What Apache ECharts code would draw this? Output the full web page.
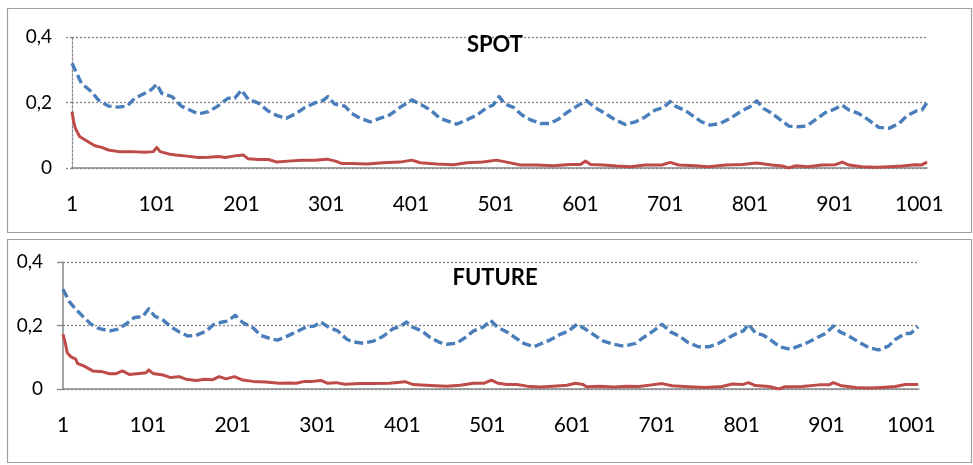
<!DOCTYPE html>
<html>
<head>
<meta charset="utf-8">
<title>SPOT / FUTURE</title>
<script src="https://cdn.jsdelivr.net/npm/echarts@6/dist/echarts.min.js"></script>
<style>
  html, body { margin: 0; padding: 0; background: #fff; }
  #chart { width: 973px; height: 465px; }
</style>
</head>
<body>
<div id="chart"></div>
<script>
// Observation offsets (0 = first observation) and values for each panel.
var spotUpperX = [0, 11, 23, 31, 43, 54, 65, 74, 86, 94, 100, 106, 118, 129, 139, 149, 161, 172, 184, 192, 200, 208, 220, 231, 243, 253, 265, 275, 287, 296, 302, 310, 322, 330, 340, 352, 364, 375, 387, 401, 413, 423, 434, 446, 454, 466, 478, 490, 497, 504, 511, 521, 531, 541, 553, 564, 574, 584, 596, 607, 617, 629, 641, 653, 665, 676, 688, 698, 706, 712, 724, 734, 743, 753, 765, 777, 789, 800, 808, 816, 826, 836, 846, 857, 867, 877, 889, 899, 909, 917, 928, 940, 952, 964, 976, 985, 997, 1003, 1009];
var spotUpperY = [0.320, 0.259, 0.233, 0.208, 0.189, 0.186, 0.189, 0.213, 0.228, 0.240, 0.256, 0.228, 0.218, 0.189, 0.177, 0.165, 0.172, 0.189, 0.213, 0.213, 0.238, 0.210, 0.198, 0.175, 0.159, 0.152, 0.167, 0.185, 0.199, 0.206, 0.218, 0.195, 0.189, 0.167, 0.152, 0.141, 0.152, 0.162, 0.185, 0.208, 0.192, 0.177, 0.152, 0.141, 0.134, 0.147, 0.162, 0.185, 0.192, 0.218, 0.195, 0.185, 0.162, 0.147, 0.136, 0.136, 0.149, 0.169, 0.189, 0.206, 0.185, 0.167, 0.147, 0.133, 0.141, 0.155, 0.177, 0.185, 0.203, 0.189, 0.175, 0.157, 0.141, 0.131, 0.136, 0.152, 0.172, 0.187, 0.205, 0.182, 0.167, 0.147, 0.128, 0.126, 0.128, 0.147, 0.169, 0.179, 0.192, 0.177, 0.167, 0.147, 0.124, 0.121, 0.136, 0.159, 0.175, 0.177, 0.199];

var spotLowerX = [0, 2, 4, 9, 19, 27, 35, 43, 55, 70, 86, 96, 100, 104, 114, 122, 133, 149, 161, 173, 181, 192, 202, 208, 220, 232, 242, 255, 271, 287, 301, 311, 318, 330, 348, 367, 387, 401, 411, 430, 450, 466, 485, 501, 513, 529, 548, 568, 588, 600, 606, 612, 627, 643, 659, 676, 696, 706, 716, 736, 751, 771, 791, 808, 826, 838, 846, 854, 869, 885, 901, 909, 917, 932, 948, 964, 980, 995, 1002, 1009];
var spotLowerY = [0.172, 0.141, 0.121, 0.096, 0.080, 0.068, 0.063, 0.055, 0.050, 0.050, 0.048, 0.050, 0.063, 0.050, 0.043, 0.040, 0.037, 0.032, 0.033, 0.035, 0.032, 0.037, 0.040, 0.028, 0.026, 0.026, 0.018, 0.021, 0.024, 0.024, 0.027, 0.021, 0.014, 0.014, 0.012, 0.016, 0.018, 0.024, 0.016, 0.012, 0.010, 0.016, 0.018, 0.024, 0.018, 0.009, 0.009, 0.007, 0.011, 0.011, 0.021, 0.011, 0.009, 0.006, 0.004, 0.009, 0.009, 0.017, 0.009, 0.007, 0.004, 0.009, 0.011, 0.015, 0.009, 0.006, 0.000, 0.007, 0.004, 0.009, 0.010, 0.018, 0.009, 0.004, 0.002, 0.004, 0.006, 0.010, 0.009, 0.018];

var futureUpperX = [0, 7, 15, 23, 33, 43, 55, 64, 74, 84, 94, 101, 108, 118, 127, 137, 147, 157, 169, 178, 188, 194, 203, 212, 224, 233, 245, 253, 263, 275, 287, 296, 304, 314, 324, 329, 335, 343, 354, 366, 378, 389, 397, 405, 411, 423, 433, 443, 452, 464, 474, 484, 496, 504, 513, 523, 533, 543, 555, 562, 574, 586, 596, 606, 616, 625, 637, 649, 661, 675, 684, 696, 706, 716, 726, 737, 749, 761, 773, 785, 794, 802, 808, 816, 826, 836, 845, 857, 867, 879, 889, 899, 908, 916, 926, 938, 950, 961, 973, 981, 993, 999, 1008];
var futureUpperY = [0.314, 0.277, 0.251, 0.230, 0.204, 0.190, 0.183, 0.188, 0.204, 0.225, 0.228, 0.253, 0.230, 0.217, 0.196, 0.180, 0.167, 0.169, 0.183, 0.204, 0.211, 0.214, 0.232, 0.209, 0.193, 0.169, 0.158, 0.154, 0.165, 0.180, 0.196, 0.198, 0.211, 0.193, 0.183, 0.170, 0.156, 0.148, 0.144, 0.151, 0.167, 0.190, 0.196, 0.211, 0.196, 0.183, 0.162, 0.148, 0.141, 0.144, 0.162, 0.183, 0.196, 0.216, 0.193, 0.180, 0.162, 0.144, 0.133, 0.141, 0.154, 0.172, 0.183, 0.204, 0.188, 0.172, 0.151, 0.141, 0.135, 0.144, 0.162, 0.183, 0.204, 0.180, 0.167, 0.146, 0.133, 0.133, 0.144, 0.162, 0.175, 0.183, 0.204, 0.177, 0.169, 0.151, 0.133, 0.125, 0.135, 0.148, 0.162, 0.175, 0.198, 0.180, 0.167, 0.148, 0.130, 0.123, 0.135, 0.156, 0.175, 0.175, 0.196];

var futureLowerX = [0, 3, 5, 9, 15, 17, 25, 35, 47, 55, 62, 70, 78, 90, 98, 101, 106, 118, 127, 137, 145, 157, 167, 176, 184, 192, 202, 212, 224, 239, 255, 267, 275, 285, 294, 304, 312, 322, 332, 338, 350, 366, 385, 403, 413, 433, 452, 468, 484, 496, 505, 513, 523, 535, 547, 562, 578, 594, 604, 613, 617, 633, 649, 665, 679, 694, 706, 718, 737, 757, 777, 789, 801, 808, 816, 832, 844, 851, 871, 891, 903, 908, 918, 934, 950, 965, 981, 993, 1008];
var futureLowerY = [0.172, 0.141, 0.114, 0.102, 0.094, 0.081, 0.072, 0.057, 0.054, 0.048, 0.048, 0.057, 0.046, 0.049, 0.051, 0.060, 0.049, 0.044, 0.036, 0.039, 0.031, 0.027, 0.031, 0.029, 0.039, 0.032, 0.039, 0.028, 0.024, 0.022, 0.018, 0.019, 0.018, 0.024, 0.024, 0.027, 0.018, 0.020, 0.015, 0.016, 0.017, 0.017, 0.018, 0.023, 0.014, 0.011, 0.009, 0.012, 0.018, 0.018, 0.028, 0.018, 0.014, 0.014, 0.009, 0.006, 0.009, 0.012, 0.018, 0.014, 0.007, 0.009, 0.006, 0.009, 0.008, 0.013, 0.017, 0.010, 0.007, 0.005, 0.008, 0.016, 0.014, 0.020, 0.011, 0.008, 0.000, 0.007, 0.008, 0.013, 0.013, 0.020, 0.010, 0.005, 0.003, 0.005, 0.008, 0.014, 0.014];

var xTickLabels = ['1', '101', '201', '301', '401', '501', '601', '701', '801', '901', '1001'];
var yTickLabels = ['0', '0,2', '0,4'];
var panelTitles = ['SPOT', 'FUTURE'];

var FONT = 'Lato, "Open Sans", sans-serif';
var BLUE = '#4A7EBB';
var RED = '#BE4B48';
var AXIS_GREY = '#868686';

function pairs(xs, ys) {
  return xs.map(function (x, i) { return [x, ys[i]]; });
}

function xAxisFor(gridIndex) {
  return {
    type: 'value', gridIndex: gridIndex, min: 0, max: 1009, interval: 100,
    axisLine: { show: true, lineStyle: { color: AXIS_GREY, width: 1.5 } },
    axisTick: { show: false },
    splitLine: { show: false },
    axisLabel: {
      showMaxLabel: false, margin: 26, color: '#000', fontSize: 21, fontFamily: FONT, lineHeight: 20,
      formatter: function (v) { var i = Math.round(v / 100); return v % 100 === 0 ? xTickLabels[i] : ''; }
    }
  };
}

function yAxisFor(gridIndex, dottedAxis) {
  var lineType = dottedAxis ? [2, 2] : 'solid';
  return {
    type: 'value', gridIndex: gridIndex, min: 0, max: 0.4, interval: 0.2,
    axisLine: { show: true, lineStyle: { color: AXIS_GREY, width: dottedAxis ? 1.3 : 1.5, type: lineType } },
    axisTick: { show: true, length: 6, lineStyle: { color: AXIS_GREY, width: 1.3, type: lineType } },
    splitLine: { show: true, lineStyle: { color: AXIS_GREY, width: 1.3, type: [2, 2] } },
    axisLabel: {
      margin: 20, color: '#000', fontSize: 19, fontFamily: FONT,
      formatter: function (v) { return yTickLabels[Math.round(v / 0.2)]; }
    }
  };
}

function lineSeries(name, idx, data, color, dashed) {
  return {
    name: name, type: 'line', xAxisIndex: idx, yAxisIndex: idx, data: data,
    showSymbol: false, symbol: 'none', smooth: false, silent: true,
    lineStyle: { color: color, width: dashed ? 3.4 : 3, type: dashed ? [9, 4] : 'solid', cap: 'butt', join: 'round' },
    z: dashed ? 3 : 4
  };
}

var chart = echarts.init(document.getElementById('chart'), null, { renderer: 'canvas' });
chart.setOption({
  animation: false,
  backgroundColor: '#fff',
  title: [
    { text: panelTitles[0], left: 495, top: 31, textAlign: 'center', padding: 0,
      textStyle: { fontFamily: FONT, fontWeight: 'bold', fontSize: 22, color: '#000', lineHeight: 28 } },
    { text: panelTitles[1], left: 495, top: 264, textAlign: 'center', padding: 0,
      textStyle: { fontFamily: FONT, fontWeight: 'bold', fontSize: 22, color: '#000', lineHeight: 28 } }
  ],
  graphic: [
    { type: 'rect', shape: { x: 7.5, y: 8.5, width: 964, height: 224 }, style: { fill: null, stroke: '#a0a0a0', lineWidth: 1.2 }, z: -1 },
    { type: 'rect', shape: { x: 7.5, y: 239.5, width: 964, height: 223 }, style: { fill: null, stroke: '#a0a0a0', lineWidth: 1.2 }, z: -1 }
  ],
  grid: [
    { left: 72, right: 46, top: 37, height: 131 },
    { left: 63, right: 54, top: 262, height: 127 }
  ],
  xAxis: [xAxisFor(0), xAxisFor(1)],
  yAxis: [yAxisFor(0, true), yAxisFor(1, false)],
  series: [
    lineSeries('spotUpper', 0, pairs(spotUpperX, spotUpperY), BLUE, true),
    lineSeries('spotLower', 0, pairs(spotLowerX, spotLowerY), RED, false),
    lineSeries('futureUpper', 1, pairs(futureUpperX, futureUpperY), BLUE, true),
    lineSeries('futureLower', 1, pairs(futureLowerX, futureLowerY), RED, false)
  ]
});
</script>
</body>
</html>
